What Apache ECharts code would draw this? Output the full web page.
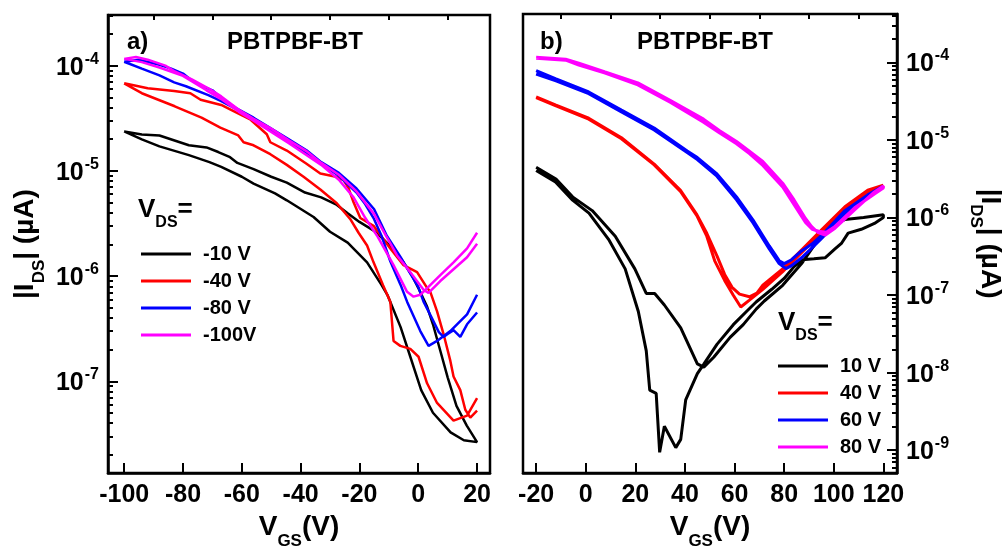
<!DOCTYPE html>
<html><head><meta charset="utf-8">
<script src="https://cdn.jsdelivr.net/npm/echarts@6/dist/echarts.min.js"></script>
<style>html,body{margin:0;padding:0;background:#fff}#c{width:1005px;height:555px}</style>
</head><body><div id="c"></div>
<script>
// ---------- Panel a) : V_GS (V) and |I_DS| ; null separates the two sweep branches ----------
const aBlkV = [-100,-94,-88,-78,-72,-68,-64,-61.5,-56,-50,-44.7,-38.5,-33,-28,-24,-20,-15,-12,-8,-5,-2,0,3,5,7.5,10,13,16.5,20,15.5,11,5,1,-2.7,-6,-10.5,-12.5,-17.4,-24,-30,-35.6,-44.7,-48.7,-56,-60,-67,-71,-78,-88,-94,-100];
const aBlkI = [2.37e-5,2.22e-5,2.17e-5,1.75e-5,1.67e-5,1.51e-5,1.35e-5,1.19e-5,1.04e-5,8.79e-6,7.73e-6,6.22e-6,5.6e-6,4.81e-6,3.96e-6,3.27e-6,2.69e-6,2.26e-6,1.75e-6,1.35e-6,1.0e-6,7.73e-7,5.13e-7,3.48e-7,1.95e-7,1.09e-7,5.83e-8,3.79e-8,2.64e-8,2.75e-8,3.27e-8,5.02e-8,8.24e-8,1.71e-7,3.27e-7,6.64e-7,8.24e-7,1.35e-6,2.08e-6,2.64e-6,3.64e-6,5.25e-6,6.1e-6,7.57e-6,8.79e-6,1.09e-5,1.21e-5,1.41e-5,1.71e-5,1.99e-5,2.37e-5];

const aRedV = [-100,-92,-83,-77.5,-74,-67,-62.8,-57,-51.5,-50.3,-44.7,-38,-33.3,-28,-25.4,-23.7,-22,-19.7,-15.2,-9.5,-5,-0.4,3,4.1,6.4,8.6,10.9,12,14.3,16,17.7,20,null,20,16.6,12,6.4,3,0.1,-2.7,-6.1,-8.4,-9.5,-12,-15.2,-17.4,-20.3,-23.1,-27.7,-33.3,-39,-44.7,-50.3,-56,-59.4,-61.2,-67.3,-73.7,-82.8,-94,-100];
const aRedI = [6.79e-5,6.1e-5,5.75e-5,5.47e-5,4.74e-5,4.23e-5,3.69e-5,3.06e-5,2.23e-5,1.87e-5,1.56e-5,1.17e-5,9.44e-6,8.79e-6,8.18e-6,6.84e-6,5.02e-6,3.56e-6,3.0e-6,1.83e-6,1.27e-6,1.09e-6,7.73e-7,7.08e-7,4.61e-7,2.81e-7,1.57e-7,1.11e-7,8.24e-8,5.36e-8,4.51e-8,5.25e-8,null,6.93e-8,4.71e-8,4.23e-8,6.22e-8,9.57e-8,1.71e-7,2.03e-7,2.17e-7,2.42e-7,5.71e-7,8.24e-7,1.35e-6,1.95e-6,2.58e-6,3.48e-6,4.92e-6,6.64e-6,8.79e-6,1.14e-5,1.44e-5,1.75e-5,1.87e-5,2.17e-5,2.58e-5,3.2e-5,4.11e-5,5.47e-5,6.79e-5];

const aBluV = [-100,-95,-88,-84,-80,-77,-74,-70,-67,-62,-56,-50,-44,-38,-33,-27,-21,-15,-10.7,-6,-3.8,0,1.8,4,7,8.6,10,12,14.3,16.6,20,null,20,16.6,10.9,6.4,3.5,0.7,-3.8,-6,-9.5,-12.5,-15.2,-18,-21,-27,-33,-44,-56,-62,-67,-71.4,-79,-83,-88,-94,-100];
const aBluI = [1.09e-4,1.14e-4,1.02e-4,9.37e-5,8.41e-5,7.24e-5,6.5e-5,5.83e-5,4.92e-5,3.96e-5,3.2e-5,2.52e-5,1.99e-5,1.57e-5,1.21e-5,9.57e-6,6.79e-6,4.32e-6,2.42e-6,1.51e-6,1.19e-6,7.89e-7,5.71e-7,4.32e-7,2.93e-7,2.64e-7,2.81e-7,3.06e-7,2.64e-7,3.48e-7,4.51e-7,null,6.64e-7,4.32e-7,3.0e-7,2.42e-7,2.17e-7,3.0e-7,5.71e-7,8.24e-7,1.38e-6,2.42e-6,3.56e-6,4.81e-6,6.22e-6,8.97e-6,1.16e-5,1.91e-5,3.06e-5,3.88e-5,4.61e-5,5.25e-5,6.37e-5,6.93e-5,8.07e-5,9.37e-5,1.09e-4];

const aMagV = [-100,-96,-92,-86,-82.8,-77,-71.4,-67,-61,-56,-50,-44,-38,-33,-27,-21,-15,-11,-7.2,-2.7,1.8,3.5,7.5,12,16.6,20,null,20,16.6,12,7.5,0.7,-1.6,-3.8,-8.4,-14,-18,-22,-27,-33,-44,-56,-61,-67,-72,-80,-88,-94,-100];
const aMagI = [1.16e-4,1.21e-4,1.14e-4,1.0e-4,8.8e-5,7.4e-5,6.1e-5,5.1e-5,3.8e-5,3.13e-5,2.52e-5,1.95e-5,1.54e-5,1.19e-5,9.18e-6,6.37e-6,3.88e-6,2.42e-6,1.57e-6,1.09e-6,7.4e-7,6.93e-7,8.97e-7,1.16e-6,1.51e-6,2.03e-6,null,2.58e-6,1.83e-6,1.35e-6,1.02e-6,6.64e-7,6.37e-7,7.08e-7,1.27e-6,2.42e-6,3.56e-6,5.6e-6,8.24e-6,1.14e-5,1.83e-5,3.0e-5,3.64e-5,4.81e-5,5.83e-5,8.0e-5,9.6e-5,1.08e-4,1.16e-4];

// ---------- Panel b) ----------
const bBlkV = [-20,-12,-5.3,2.6,11.9,19.8,24.4,27.8,31.7,38.3,45,47.6,51.6,58.2,63.5,68.8,72,79.4,87.3,93,95.2,100,104.5,112,120,120,116.4,111.1,105.8,103.2,100.5,96.5,92,87.3,84,80,75,68.8,64.8,59.5,52.9,47.6,45,40.3,38.3,36.3,31.7,29.8,29.1,28.4,25.8,24.4,21.2,15.9,9.2,1.3,-5.3,-12.2,-20];
const bBlkI = [4.45e-6,3.15e-6,1.85e-6,1.23e-6,5.75e-7,2.18e-7,1.05e-7,1.05e-7,7.46e-8,3.78e-8,1.3e-8,1.18e-8,1.58e-8,2.85e-8,4.17e-8,6.65e-8,8.4e-8,1.34e-7,2.62e-7,4.83e-7,6.47e-7,7.94e-7,9.46e-7,1.0e-6,1.09e-6,1.0e-6,8.41e-7,7.06e-7,6.3e-7,4.7e-7,3.94e-7,3.03e-7,2.94e-7,2.86e-7,2.33e-7,1.64e-7,1.19e-7,8.22e-8,6.14e-8,4.16e-8,2.32e-8,1.29e-8,9.7e-9,4.45e-9,1.38e-9,1.08e-9,2.04e-9,9.4e-10,2.25e-9,5.41e-9,5.94e-9,1.91e-8,6.14e-8,2.18e-7,5.24e-7,1.14e-6,1.68e-6,2.87e-6,4.04e-6];

const bRedV = [-20,-12,1.2,14.4,27.6,38.2,44.8,48.8,52.9,56,59,62,66,69,71.4,79.4,87.3,95.2,104.5,113.7,120,120,113.7,104.5,95.2,87.3,79.4,71.4,66,62.5,59.5,56,52,48.8,44.8,38.2,27.6,14.4,1.2,-12,-20];
const bRedI = [3.6e-5,2.82e-5,1.91e-5,1.07e-5,4.89e-6,2.25e-6,1.09e-6,6.28e-7,3.21e-7,1.85e-7,1.26e-7,1.03e-7,9.52e-8,1.06e-7,1.34e-7,2.18e-7,3.91e-7,7.0e-7,1.38e-6,2.25e-6,2.61e-6,2.48e-6,2.14e-6,1.3e-6,6.47e-7,3.61e-7,2.01e-7,1.19e-7,8.63e-8,7.03e-8,9.98e-8,1.55e-7,2.77e-7,5.75e-7,1.06e-6,2.17e-6,4.78e-6,1.04e-5,1.86e-5,2.75e-5,3.53e-5];

const bBluV = [-20,-12,1.2,14.4,27.6,40.9,45,52.9,60.8,67.4,74,78,80,83,87,91.2,95.2,104.5,113.7,120,120,113.7,104.5,95.2,91.2,87,83,80.7,78,74,67.4,60.8,52.9,45,40.9,27.6,14.4,1.2,-12,-20];
const bBluI = [7.83e-5,6.14e-5,4.17e-5,2.44e-5,1.43e-5,7.23e-6,5.94e-6,3.66e-6,1.85e-6,9.37e-7,4.31e-7,2.78e-7,2.55e-7,2.86e-7,3.72e-7,4.56e-7,5.93e-7,1.23e-6,1.96e-6,2.55e-6,2.63e-6,1.85e-6,1.13e-6,5.43e-7,4.06e-7,3.03e-7,2.4e-7,2.2e-7,2.55e-7,3.94e-7,8.59e-7,1.69e-6,3.42e-6,5.61e-6,6.89e-6,1.35e-5,2.31e-5,3.96e-5,5.79e-5,7.11e-5];

const bMagV = [-20,-8.1,-2.8,7.8,21,34.2,47.5,54,60.8,66,71.4,79.4,84,88.6,91.3,93.9,97,100.5,108.4,116.4,120,120,116.4,108.4,100.5,96.5,93.5,91,88.6,84,79.4,71.4,66,60.8,54,47.5,34.2,21,7.8,-2.8,-8.1,-20];
const bMagI = [1.13e-4,1.07e-4,9.25e-5,7.31e-5,5.15e-5,3.05e-5,1.7e-5,1.23e-5,8.95e-6,6.68e-6,4.71e-6,2.48e-6,1.47e-6,8.67e-7,7.06e-7,6.67e-7,6.47e-7,7.7e-7,1.34e-6,2.02e-6,2.4e-6,2.55e-6,2.14e-6,1.26e-6,7.28e-7,5.93e-7,6.47e-7,7.7e-7,9.75e-7,1.69e-6,2.78e-6,5.3e-6,7.2e-6,9.6e-6,1.32e-5,1.86e-5,3.24e-5,5.47e-5,7.53e-5,9.79e-5,1.1e-4,1.17e-4];

// ---------- names, ticks ----------
const aNames = ['-10 V','-40 V','-80 V','-100V'];
const bNames = ['10 V','40 V','60 V','80 V'];
const colors = ['#000000','#ff0000','#0000ff','#ff00ff'];
const aXMajor = [-100,-80,-60,-40,-20,0,20];
const aXMinor = [-90,-70,-50,-30,-10,10];
const bXMajor = [-20,0,20,40,60,80,100,120];
const bXMinor = [-10,10,30,50,70,90,110];
const aYMajor = [1e-7,1e-6,1e-5,1e-4];
const bYMajor = [1e-9,1e-8,1e-7,1e-6,1e-5,1e-4];
const yMinor = [];
[-10,-9,-8,-7,-6,-5,-4].forEach(e => { for (let k = 2; k <= 9; k++) yMinor.push(k * Math.pow(10, e)); });

const F = '"Liberation Sans", Arial, sans-serif';
const txt = (size) => ({fontFamily: F, fontWeight: 'bold', fontSize: size, color: '#000'});

function pts(V, I) { return V.map((v, i) => v === null ? ['-', '-'] : [v, I[i]]); }

function xAxes(grid, min, max, major, minor) {
  return [
    {type: 'value', gridIndex: grid, min, max, splitLine: {show: false},
     axisLine: {onZero: false, lineStyle: {color: '#000', width: 2.5}},
     axisTick: {inside: true, length: 10, lineStyle: {color: '#000', width: 2}, customValues: major},
     axisLabel: Object.assign({customValues: major, margin: 10}, txt(25)),
     name: '{m|V}{s|GS}{m|(V)}', nameLocation: 'middle', nameGap: 38,
     nameTextStyle: {rich: {m: Object.assign({verticalAlign: 'top'}, txt(28)), s: Object.assign({verticalAlign: 'top', padding: [20, 0, 0, 0]}, txt(17))}}},
    {type: 'value', gridIndex: grid, min, max, splitLine: {show: false},
     axisLine: {show: false, onZero: false},
     axisTick: {inside: true, length: 5, lineStyle: {color: '#000', width: 2}, customValues: minor},
     axisLabel: {show: false}}
  ];
}
function yAxes(grid, min, max, major, pos, gap, rot) {
  return [
    {type: 'log', gridIndex: grid, min, max, position: pos, splitLine: {show: false}, minorSplitLine: {show: false},
     axisLine: {onZero: false, lineStyle: {color: '#000', width: 2.5}},
     axisTick: {inside: true, length: 10, lineStyle: {color: '#000', width: 2}, customValues: major},
     axisLabel: {customValues: major, margin: 9, formatter: v => '{b|10}{s|' + Math.round(Math.log10(v)) + '}',
       rich: {b: Object.assign({verticalAlign: 'bottom'}, txt(25)), s: Object.assign({verticalAlign: 'bottom', padding: [0, 0, 13, 1]}, txt(16))}},
     name: '{m||I}{s|DS}{m|| (µA)}', nameLocation: 'middle', nameGap: gap, nameRotate: rot,
     nameTextStyle: {rich: {m: Object.assign({verticalAlign: 'top'}, txt(28)), s: Object.assign({verticalAlign: 'top', padding: [20, 0, 0, 0]}, txt(17))}}},
    {type: 'log', gridIndex: grid, min, max, position: pos, splitLine: {show: false},
     axisLine: {show: false, onZero: false},
     axisTick: {inside: true, length: 5, lineStyle: {color: '#000', width: 2}, customValues: yMinor.filter(v => v > min && v < max)},
     axisLabel: {show: false}}
  ];
}

const series = [];
[[aBlkV, aBlkI], [aRedV, aRedI], [aBluV, aBluI], [aMagV, aMagI]].forEach((d, i) => series.push({
  type: 'line', name: aNames[i], xAxisIndex: 0, yAxisIndex: 0, data: pts(d[0], d[1]), symbol: 'none', showSymbol: false,
  color: colors[i], lineStyle: {color: colors[i], width: 2.5}, connectNulls: false, animation: false, z: 3 + i}));
[[bBlkV, bBlkI], [bRedV, bRedI], [bBluV, bBluI], [bMagV, bMagI]].forEach((d, i) => series.push({
  type: 'line', name: bNames[i], xAxisIndex: 2, yAxisIndex: 2, data: pts(d[0], d[1]), symbol: 'none', showSymbol: false,
  color: colors[i], lineStyle: {color: colors[i], width: 3}, connectNulls: false, animation: false, z: 3 + i}));

const legendBase = {orient: 'vertical', icon: 'rect', itemWidth: 50, itemHeight: 3, itemGap: 7,
  textStyle: Object.assign({padding: [0, 0, 0, 7], lineHeight: 20}, txt(20))};

const vdsRich = {m: {fontFamily: F, fontWeight: 'bold', fontSize: 26, fill: '#000', verticalAlign: 'top'},
                 s: {fontFamily: F, fontWeight: 'bold', fontSize: 16, fill: '#000', verticalAlign: 'top', padding: [18, 0, 0, 0]}};
const tStyle = (t) => ({text: t, fontFamily: F, fontWeight: 'bold', fontSize: 24, fill: '#000', verticalAlign: 'top', align: 'left'});
const vdsStyle = {text: '{m|V}{s|DS}{m|=}', rich: vdsRich, verticalAlign: 'top', align: 'left'};

const chart = echarts.init(document.getElementById('c'), null, {renderer: 'canvas'});
chart.setOption({
  backgroundColor: '#fff',
  animation: false,
  grid: [
    {left: 108, top: 15, width: 382, height: 467, show: true, borderColor: '#000', borderWidth: 2.5, backgroundColor: 'transparent'},
    {left: 523, top: 14, width: 380, height: 467, show: true, borderColor: '#000', borderWidth: 2.5, backgroundColor: 'transparent'}
  ],
  xAxis: [...xAxes(0, -105.5, 24.4, aXMajor, aXMinor), ...xAxes(1, -25.3, 125.5, bXMajor, bXMinor)],
  yAxis: [...yAxes(0, 1.34e-8, 3.03e-4, aYMajor, 'left', 60, 90), ...yAxes(1, 5.07e-10, 4.22e-4, bYMajor, 'right', 70, -90)],
  legend: [
    Object.assign({data: aNames, left: 136, top: 239}, legendBase),
    Object.assign({data: bNames, left: 773, top: 351}, legendBase)
  ],
  graphic: [
    {type: 'text', x: 127, y: 30, style: tStyle('a)')},
    {type: 'text', x: 227, y: 30, style: tStyle('PBTPBF-BT')},
    {type: 'text', x: 540, y: 30, style: tStyle('b)')},
    {type: 'text', x: 637, y: 30, style: tStyle('PBTPBF-BT')},
    {type: 'text', x: 138, y: 197, style: vdsStyle},
    {type: 'text', x: 778, y: 310, style: vdsStyle}
  ],
  series
});
</script></body></html>
